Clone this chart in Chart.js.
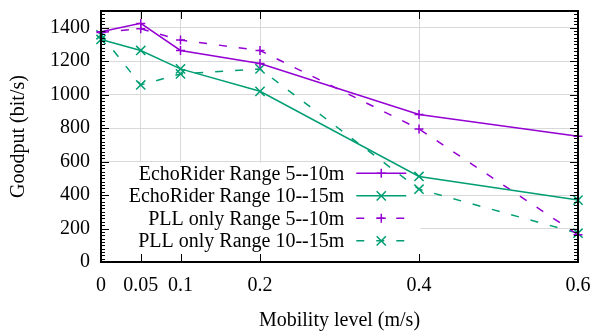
<!DOCTYPE html>
<html><head><meta charset="utf-8">
<script src="https://cdn.jsdelivr.net/npm/chart.js@4.4.1/dist/chart.umd.min.js"></script>
<style>html,body{margin:0;padding:0;background:#fff}#wrap{width:600px;height:333px;position:relative}</style>
</head><body><div id="wrap"><canvas id="c"></canvas></div>
<script>
const mobility = [0, 0.05, 0.1, 0.2, 0.4, 0.6];
const echoRider5to10 = [1376, 1426, 1264, 1186, 882, 751];
const echoRider10to15 = [1330, 1264, 1154, 1020, 511, 370];
const pll5to10 = [1372, 1394, 1326, 1264, 795, 163];
const pll10to15 = [1358, 1058, 1124, 1154, 435, 172];
const seriesNames = ['EchoRider Range 5--10m', 'EchoRider Range 10--15m', 'PLL only Range 5--10m', 'PLL only Range 10--15m'];
const xTickValues = [0, 0.05, 0.1, 0.2, 0.4, 0.6];
const yTickValues = [0, 200, 400, 600, 800, 1000, 1200, 1400];
const yMinorStep = 20;

const PURPLE = '#9400d3', GREEN = '#009e73';
const FONT = 'Liberation Serif';

function pts(vals){ return vals.map((v,i)=>({x: mobility[i], y: v})); }

function mk(label, vals, color, style, dashed){
  return {
    label, data: pts(vals), borderColor: color, backgroundColor: color,
    borderWidth: 1.5, borderDash: dashed ? [8,12] : [],
    pointStyle: style, pointRadius: style === 'cross' ? 4.5 : 6.5,
    pointBorderWidth: 1.5, pointBorderColor: color, pointHoverRadius: 0,
    tension: 0, fill: false, clip: false
  };
}

const frame = {
  id: 'frame',
  beforeDatasetsDraw(chart){
    const {ctx, chartArea: a} = chart;
    const xs = chart.scales.x, ys = chart.scales.y;
    ctx.save();
    ctx.fillStyle = '#fff';
    const x1 = xs.getPixelForValue(0.4) + 1.5;
    const y1 = ys.getPixelForValue(600) + 1;
    ctx.fillRect(a.left, y1, x1 - a.left, a.bottom - y1);
    ctx.restore();
  },
  afterDatasetsDraw(chart){
    const {ctx, chartArea: a} = chart;
    const xs = chart.scales.x, ys = chart.scales.y;
    ctx.save();
    ctx.strokeStyle = '#000';
    ctx.lineWidth = 1;
    ctx.beginPath();
    for (const v of xTickValues){
      const px = Math.round(xs.getPixelForValue(v)) + 0.5;
      ctx.moveTo(px, a.bottom); ctx.lineTo(px, a.bottom - 8);
      ctx.moveTo(px, a.top); ctx.lineTo(px, a.top + 8);
    }
    for (let v = 0; v <= 1500; v += yMinorStep){
      const py = Math.round(ys.getPixelForValue(v)) + 0.5;
      const len = yTickValues.includes(v) ? 8 : 4;
      ctx.moveTo(a.left, py); ctx.lineTo(a.left + len, py);
      ctx.moveTo(a.right, py); ctx.lineTo(a.right - len, py);
    }
    ctx.stroke();
    ctx.lineWidth = 2;
    ctx.strokeRect(a.left, a.top, a.right - a.left, a.bottom - a.top);

    // legend
    const textRight = xs.getPixelForValue(0.306);
    const lineX0 = textRight + 12, lineX1 = textRight + 62;
    const y0 = ys.getPixelForValue(530);
    ctx.font = '20px "' + FONT + '"';
    ctx.textAlign = 'right';
    ctx.textBaseline = 'middle';
    chart.data.datasets.forEach((ds, i) => {
      const y = y0 + i * 22.5;
      ctx.fillStyle = '#000';
      ctx.fillText(seriesNames[i], textRight, y + 1);
      ctx.strokeStyle = ds.borderColor;
      ctx.lineWidth = ds.borderWidth;
      ctx.setLineDash(ds.borderDash);
      ctx.beginPath(); ctx.moveTo(lineX0, y); ctx.lineTo(lineX1, y); ctx.stroke();
      ctx.setLineDash([]);
      Chart.helpers.drawPoint(ctx, {pointStyle: ds.pointStyle, radius: ds.pointRadius, borderWidth: ds.pointBorderWidth, rotation: 0}, (lineX0 + lineX1) / 2, y);
    });
    ctx.restore();
  }
};

new Chart(document.getElementById('c'), {
  type: 'line',
  data: { datasets: [
    mk(seriesNames[0], echoRider5to10, PURPLE, 'cross', false),
    mk(seriesNames[1], echoRider10to15, GREEN, 'crossRot', false),
    mk(seriesNames[2], pll5to10, PURPLE, 'cross', true),
    mk(seriesNames[3], pll10to15, GREEN, 'crossRot', true)
  ]},
  options: {
    responsive: true, maintainAspectRatio: false, animation: false,
    events: [],
    layout: { padding: { top: 11, right: 22, left: 0, bottom: 0 } },
    plugins: { legend: { display: false }, tooltip: { enabled: false } },
    scales: {
      x: {
        type: 'linear', min: 0, max: 0.6,
        afterBuildTicks: s => { s.ticks = xTickValues.map(v => ({value: v})); },
        afterFit: s => { s.height = 71; s.paddingLeft = 0; s.paddingRight = 0; s.paddingTop = 0; s.paddingBottom = 0; },
        grid: { color: '#d9d9d9', lineWidth: 1, drawTicks: false },
        border: { display: false },
        ticks: { color: '#000', padding: 12, maxRotation: 0, autoSkip: false,
          font: { family: FONT, size: 20 }, callback: v => String(v) },
        title: { display: true, text: 'Mobility level (m/s)', color: '#000',
          font: { family: FONT, size: 20 }, padding: { top: 0, bottom: 0 } }
      },
      y: {
        type: 'linear', min: 0, max: 1500,
        afterBuildTicks: s => { s.ticks = yTickValues.map(v => ({value: v})); },
        afterFit: s => { s.width = 101; s.paddingTop = 0; s.paddingBottom = 0; s.paddingLeft = 0; s.paddingRight = 0; },
        grid: { color: '#d9d9d9', lineWidth: 1, drawTicks: false },
        border: { display: false },
        ticks: { color: '#000', padding: 11, font: { family: FONT, size: 20 }, callback: v => String(v) },
        title: { display: true, text: 'Goodput (bit/s)', color: '#000',
          font: { family: FONT, size: 20 }, padding: { top: 7, bottom: 0 } }
      }
    }
  },
  plugins: [frame]
});
</script>
</body></html>
